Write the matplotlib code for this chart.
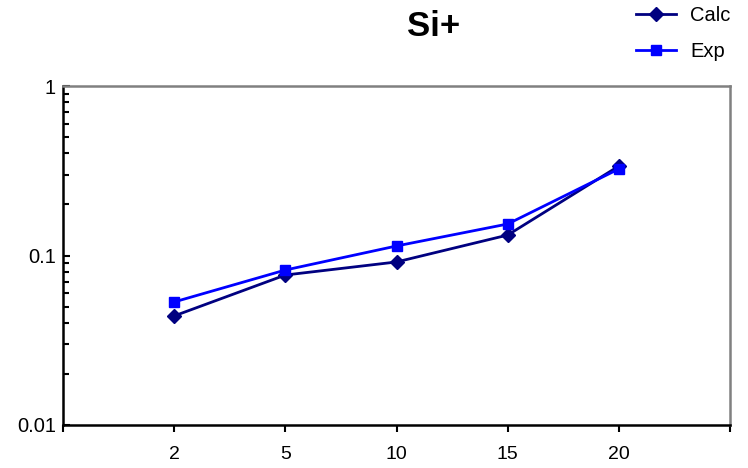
import matplotlib
matplotlib.use("Agg")
import matplotlib.pyplot as plt
from matplotlib.ticker import LogLocator, NullFormatter, FixedLocator, FixedFormatter

plt.rcParams['font.family'] = ['Liberation Sans', 'DejaVu Sans']

categories = ["2", "5", "10", "15", "20"]
calc = [0.0440, 0.0767, 0.0916, 0.132, 0.337]
exp = [0.0532, 0.0821, 0.1138, 0.1534, 0.324]
y_ticks = [0.01, 0.1, 1]
y_tick_labels = ["0.01", "0.1", "1"]

fig = plt.figure(figsize=(7.48, 4.68), dpi=100)
ax = fig.add_axes([63 / 748, 1 - 425 / 468, 667 / 748, 339 / 468])

xpos = list(range(1, len(categories) + 1))
ax.plot(xpos, calc, color="#000080", lw=2, marker="D", ms=7, label="Calc")
ax.plot(xpos, exp, color="#0000FF", lw=2, marker="s", ms=7, label="Exp")

ax.set_yscale("log")
ax.set_ylim(0.01, 1)
ax.set_xlim(0, len(categories) + 1)

ax.yaxis.set_major_locator(FixedLocator(y_ticks))
ax.yaxis.set_major_formatter(FixedFormatter(y_tick_labels))
ax.yaxis.set_minor_locator(LogLocator(base=10, subs=range(2, 10)))
ax.yaxis.set_minor_formatter(NullFormatter())

ax.xaxis.set_major_locator(FixedLocator(range(0, len(categories) + 2)))
ax.xaxis.set_major_formatter(FixedFormatter([""] + categories + [""]))

ax.tick_params(axis="y", which="major", direction="in", length=5, width=1.5, labelsize=14.5, pad=5)
ax.tick_params(axis="y", which="minor", direction="in", length=4, width=1.5)
ax.tick_params(axis="x", which="major", direction="out", length=5, width=1.5, labelsize=14, pad=10)

for side in ("left", "bottom"):
    ax.spines[side].set_color("black")
    ax.spines[side].set_linewidth(1.8)
for side in ("top", "right"):
    ax.spines[side].set_color("#808080")
    ax.spines[side].set_linewidth(1.8)

fig.text(434 / 748, 1 - 26 / 468, "Si+", ha="center", va="center",
         fontsize=25, fontweight="bold")

fig.legend(loc="upper left", bbox_to_anchor=(636 / 748, 1 - 6 / 468),
           frameon=False, fontsize=14.5, handlelength=2.0, labelspacing=0.85,
           handletextpad=0.7, borderaxespad=0, borderpad=0)

fig.savefig("out.png", dpi=100)
